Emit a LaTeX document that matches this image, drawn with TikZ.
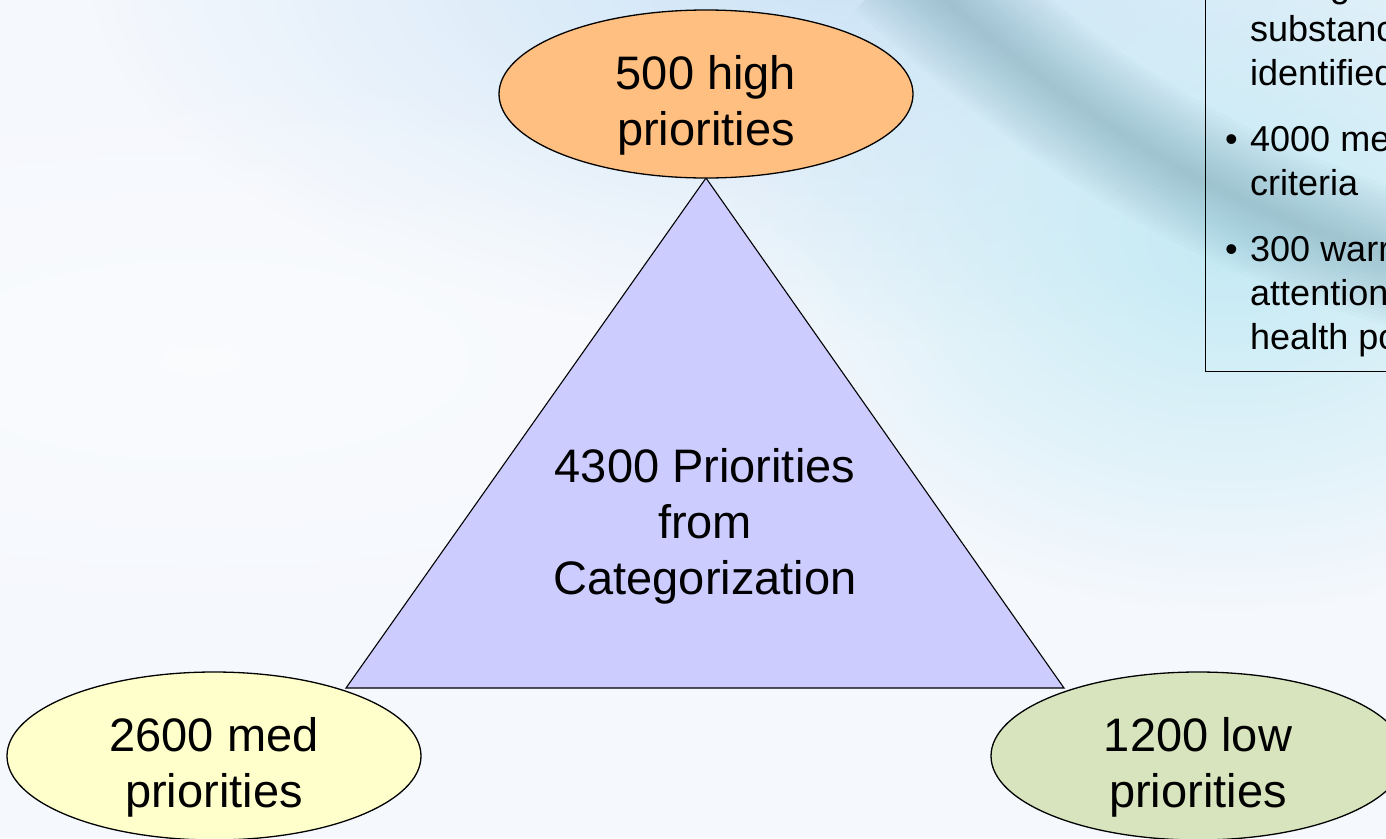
\documentclass[tikz,border=0pt]{standalone}
\usepackage{fontspec}
\setmainfont{Liberation Sans}
\usetikzlibrary{shapes.geometric,fadings,calc}
\definecolor{bgwhite}{HTML}{F5F8FD}
\definecolor{skyblue}{HTML}{CBE3F6}
\definecolor{cyanlt}{HTML}{C4EAF4}
\definecolor{swooshc}{HTML}{6E9FAF}
\definecolor{highfill}{HTML}{FFBF80}
\definecolor{medfill}{HTML}{FFFFCC}
\definecolor{lowfill}{HTML}{D7E4BD}
\definecolor{trifill}{HTML}{CCCCFF}
\tikzfading[name=softspot, inner color=transparent!0, outer color=transparent!100]
\tikzset{
  ell/.style={ellipse, draw=black, line width=1.3pt, minimum width=414pt, minimum height=168pt, inner sep=0pt},
  bigtxt/.style={align=center, inner sep=0pt, font=\fontsize{47}{56}\selectfont},
  smalltxt/.style={align=left, inner sep=0pt, font=\fontsize{36}{44}\selectfont},
  tri/.style={fill=trifill, draw=black, line width=1.1pt, line join=miter},
  infobox/.style={draw=black, line width=1.2pt, inner sep=0pt, minimum width=240pt, minimum height=420pt}
}
\begin{document}
\begin{tikzpicture}[x=1pt,y=-1pt]
\useasboundingbox (0,0) rectangle (1386,838);
\clip (0,0) rectangle (1386,838);
% background
\fill[bgwhite] (0,0) rectangle (1386,838);
\fill[skyblue, path fading=softspot] (850,-40) ellipse (760 and 380);
\fill[cyanlt, path fading=softspot] (1230,250) ellipse (500 and 360);
\fill[white, opacity=0.45, path fading=softspot] (200,360) ellipse (800 and 300);
\coordinate (s1) at (900,-40);
\coordinate (s2) at (1030,75);
\coordinate (s3) at (1170,195);
\coordinate (s4) at (1420,265);
\foreach \w in {8,16,...,136}
  \draw[swooshc, line width=\w pt, opacity=0.032] (s1) .. controls (s2) and (s3) .. (s4);
% triangle
\coordinate (apex) at (706,178);
\coordinate (bl) at (346,688);
\coordinate (br) at (1064,688);
\filldraw[tri] (apex) -- (br) -- (bl) -- cycle;
\node[bigtxt] (tritxt) at (705,526) {4300 Priorities\\from\\Categorization};
% ellipses
\node[ell, fill=highfill] (high) at (706,94) {};
\node[bigtxt] (hightxt) at ($(high.center)+(0,11)$) {500 high\\priorities};
\node[ell, fill=medfill] (med) at (214,756) {};
\node[bigtxt] (medtxt) at ($(med.center)+(0,11)$) {2600 med\\priorities};
\node[ell, fill=lowfill] (low) at (1198,756) {};
\node[bigtxt] (lowtxt) at ($(low.center)+(0,11)$) {1200 low\\priorities};
% info box (cut by the picture edge)
\node[infobox, anchor=south west] (info) at (1205,372) {};
\node[smalltxt, anchor=north west] (infotxt) at (1250,-28.5) {during\\substanc\\identified\\[22pt]\llap{\makebox[25pt][l]{•}}4000 me\\criteria\\[22pt]\llap{\makebox[25pt][l]{•}}300 warr\\attention\\health po};
\end{tikzpicture}
\end{document}
